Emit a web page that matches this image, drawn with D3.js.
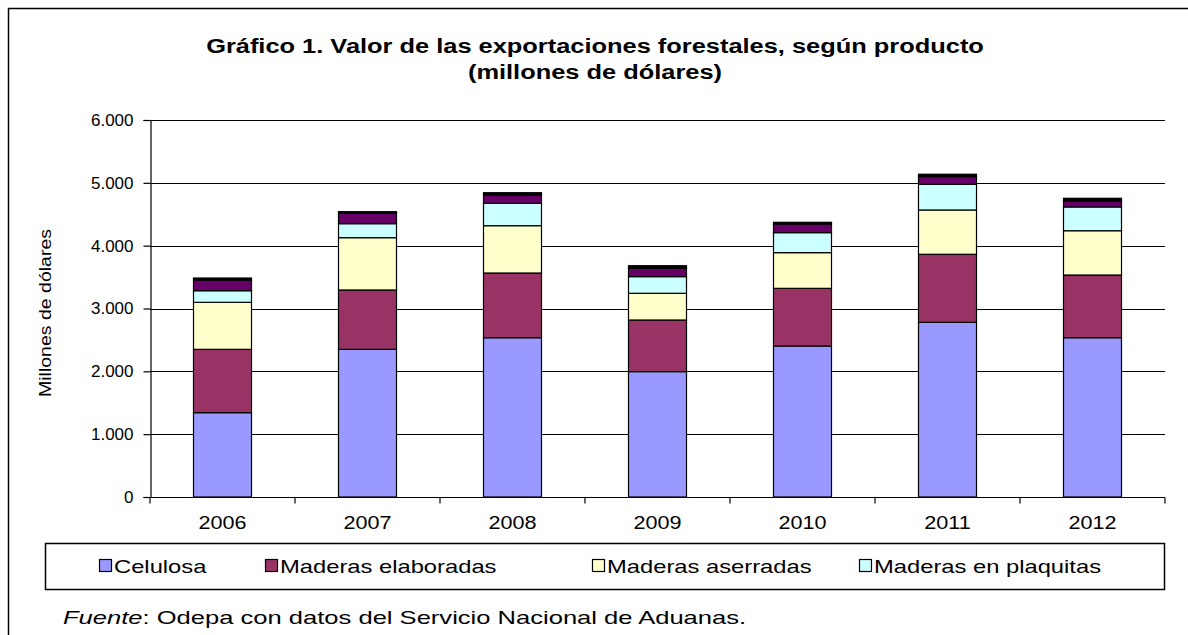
<!DOCTYPE html>
<html><head><meta charset="utf-8">
<script src="https://cdn.jsdelivr.net/npm/d3@7"></script>
<style>
body{margin:0;background:#fff;}
svg{display:block;font-family:Arial,"Liberation Sans",sans-serif;}
</style></head>
<body>
<svg id="c" width="1188" height="635"></svg>
<script>
const years = ["2006","2007","2008","2009","2010","2011","2012"];
const celulosa   = [1342, 2350, 2535, 1995, 2403, 2780, 2535];
const elaboradas = [1008, 945, 1030, 822, 918, 1083, 998];
const aserradas  = [748, 832, 753, 425, 568, 705, 705];
const plaquitas  = [185, 223, 356, 265, 318, 409, 378];
const otros      = [170, 165, 132, 133, 138, 122, 95];
const otros2     = [32, 26, 37, 41, 27, 38, 43];
const seriesNames = ["Celulosa","Maderas elaboradas","Maderas aserradas","Maderas en plaquitas","Otros","Otros 2"];
const legendNames = ["Celulosa","Maderas elaboradas","Maderas aserradas","Maderas en plaquitas"];
const colors = ["#9999FF","#993366","#FFFFCC","#CCFFFF","#660066","#000000"];
const yTicks = [0,1000,2000,3000,4000,5000,6000];

const seriesVals = [celulosa, elaboradas, aserradas, plaquitas, otros, otros2];
const rows = years.map((y,i)=>{const o={year:y}; seriesNames.forEach((n,k)=>o[n]=seriesVals[k][i]); return o;});
const stacked = d3.stack().keys(seriesNames)(rows);

const svg = d3.select("#c");
const m = {l:150, r:1165, t:120, b:497};

// helper: horizontally stretched text
function sText(parent, x, y, sx, txt, anchor, size, weight){
  const g = parent.append("g").attr("transform",`translate(${x},${y}) scale(${sx},1)`);
  const t = g.append("text").attr("x",0).attr("y",0).attr("text-anchor",anchor||"start")
    .attr("font-size",size).attr("fill","#000");
  if (weight) t.attr("font-weight",weight);
  if (txt !== null) t.text(txt);
  return t;
}

// outer frame
svg.append("rect").attr("x",8.5).attr("y",8.5).attr("width",1200).attr("height",700)
  .attr("fill","none").attr("stroke","#000").attr("stroke-width",1.5);

// title
sText(svg, 595, 53, 1.27, "Gráfico 1. Valor de las exportaciones forestales, según producto", "middle", 20, "bold");
sText(svg, 595, 79, 1.27, "(millones de dólares)", "middle", 20, "bold");

const x = d3.scaleBand().domain(years).range([m.l,m.r]).paddingInner(0.6).paddingOuter(0.3);
const y = d3.scaleLinear().domain([0,6000]).range([m.b,m.t]);

// gridlines
svg.append("g").selectAll("line").data(yTicks.filter(d=>d>0)).join("line")
  .attr("x1",m.l).attr("x2",m.r).attr("y1",d=>Math.round(y(d))+0.5).attr("y2",d=>Math.round(y(d))+0.5)
  .attr("stroke","#000").attr("stroke-width",1.2);

// bars
svg.append("g").selectAll("g").data(stacked).join("g")
  .attr("fill",(d,i)=>colors[i])
  .selectAll("rect").data(d=>d).join("rect")
  .attr("x",d=>x(d.data.year)).attr("width",x.bandwidth())
  .attr("y",d=>y(d[1])).attr("height",d=>y(d[0])-y(d[1]))
  .attr("stroke","#000").attr("stroke-width",1.2);

// y axis
const yAxis = d3.axisLeft(y).tickValues(yTicks).tickSize(7).tickPadding(10)
  .tickFormat(d=>d3.format(",")(d).replace(/,/g,"."));
const gy = svg.append("g").attr("transform",`translate(${m.l+0.5},0)`).call(yAxis);
gy.selectAll("text").attr("font-size",17).attr("fill","#000").attr("font-family","Arial,'Liberation Sans',sans-serif");
gy.selectAll("line,path").attr("stroke","#000").attr("stroke-width",1.2);

// x axis
const xb = d3.scaleLinear().domain([0,years.length]).range([m.l,m.r]);
const gx = svg.append("g").attr("transform",`translate(0,${m.b+0.5})`);
gx.append("line").attr("x1",m.l).attr("x2",m.r).attr("stroke","#000").attr("stroke-width",1.2);
gx.selectAll("line.t").data(d3.range(years.length+1)).join("line").attr("class","t")
  .attr("x1",d=>xb(d)).attr("x2",d=>xb(d)).attr("y1",0).attr("y2",6).attr("stroke","#000").attr("stroke-width",1.2);
years.forEach(d=>sText(gx, x(d)+x.bandwidth()/2, 31, 1.2, d, "middle", 18));

// y title
svg.append("text").attr("transform","translate(51,313) rotate(-90)").attr("text-anchor","middle")
  .attr("font-size",17).attr("textLength",168).attr("lengthAdjust","spacingAndGlyphs")
  .text("Millones de dólares");

// legend
svg.append("rect").attr("x",45.5).attr("y",543.5).attr("width",1119).attr("height",46)
  .attr("fill","#fff").attr("stroke","#000").attr("stroke-width",1.5);
const legX = [99, 265, 592, 859];
legendNames.forEach((n,i)=>{
  const g = svg.append("g").attr("transform",`translate(${legX[i]},566)`);
  g.append("rect").attr("x",0.5).attr("y",-6.5).attr("width",12).attr("height",12)
    .attr("fill",colors[i]).attr("stroke","#000").attr("stroke-width",1.2);
  sText(g, 15, 7, 1.25, n, "start", 19);
});

// source
const src = sText(svg, 63, 624, 1.42, null, "start", 18);
src.append("tspan").attr("font-style","italic").text("Fuente");
src.append("tspan").text(": Odepa con datos del Servicio Nacional de Aduanas.");
</script>
</body></html>
